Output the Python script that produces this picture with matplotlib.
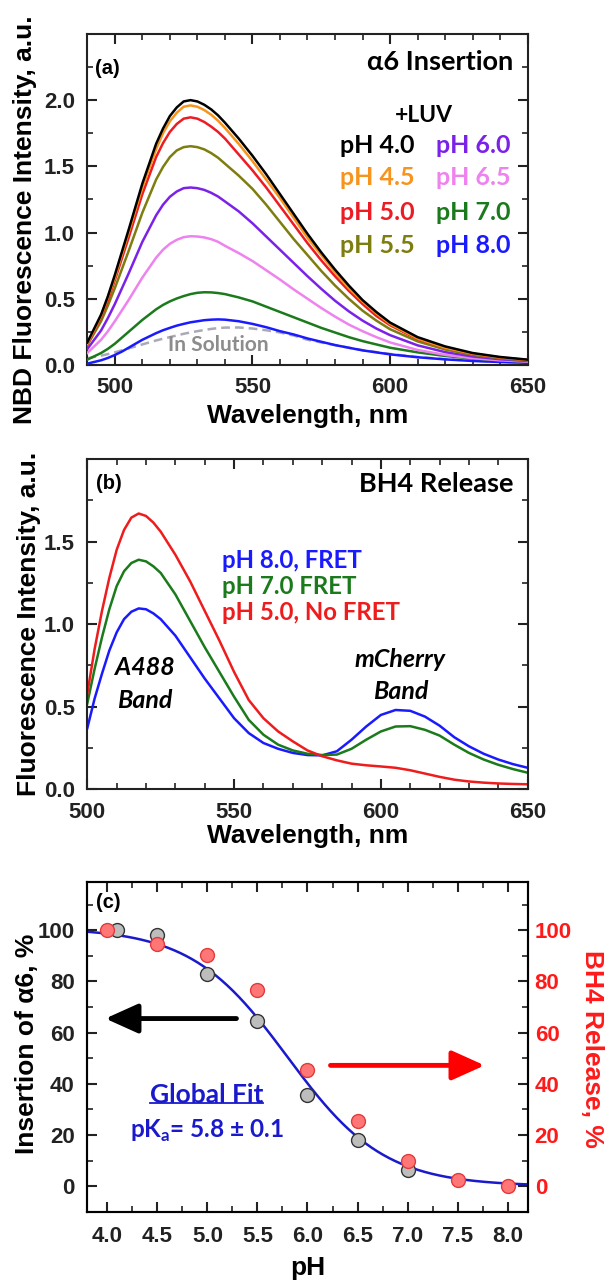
import matplotlib
matplotlib.use('Agg')
import matplotlib.pyplot as plt
from matplotlib.ticker import MultipleLocator, FixedLocator, FormatStrFormatter
import numpy as np

# ---------------- Panel (a): NBD fluorescence spectra ----------------
wl_a = [490, 495, 497.5, 500, 502.5, 505, 510, 515, 517.5, 520, 522.5, 525, 527.5, 530, 532.5,
        535, 537.5, 540, 545, 550, 555, 560, 565, 570, 575, 580, 585, 590, 595, 600,
        610, 620, 630, 640, 650]
ph40 = [0.17, 0.38, 0.52, 0.68, 0.85, 1.02, 1.37, 1.67, 1.785, 1.88, 1.945, 1.99, 2.0, 1.99, 1.965,
        1.93, 1.885, 1.83, 1.71, 1.58, 1.44, 1.29, 1.14, 0.99, 0.85, 0.72, 0.60, 0.49, 0.40, 0.32,
        0.21, 0.14, 0.09, 0.06, 0.04]
ph45 = [0.16, 0.37, 0.51, 0.66, 0.83, 1.00, 1.34, 1.63, 1.75, 1.84, 1.905, 1.95, 1.96, 1.95, 1.925,
        1.89, 1.845, 1.79, 1.67, 1.54, 1.40, 1.26, 1.11, 0.96, 0.83, 0.70, 0.58, 0.48, 0.39, 0.31,
        0.20, 0.13, 0.085, 0.057, 0.038]
ph50 = [0.155, 0.36, 0.49, 0.64, 0.80, 0.96, 1.29, 1.57, 1.675, 1.76, 1.82, 1.86, 1.87, 1.86, 1.835,
        1.80, 1.76, 1.71, 1.59, 1.47, 1.34, 1.20, 1.06, 0.92, 0.79, 0.67, 0.56, 0.46, 0.37, 0.30,
        0.195, 0.13, 0.083, 0.055, 0.037]
ph55 = [0.15, 0.33, 0.45, 0.58, 0.72, 0.86, 1.15, 1.40, 1.495, 1.57, 1.62, 1.645, 1.652, 1.645, 1.628,
        1.60, 1.565, 1.52, 1.43, 1.33, 1.21, 1.08, 0.95, 0.83, 0.71, 0.60, 0.50, 0.41, 0.335, 0.27,
        0.178, 0.117, 0.076, 0.05, 0.034]
ph60 = [0.12, 0.26, 0.355, 0.46, 0.575, 0.69, 0.93, 1.13, 1.21, 1.27, 1.31, 1.335, 1.34, 1.335, 1.322,
        1.30, 1.272, 1.235, 1.16, 1.07, 0.97, 0.87, 0.77, 0.67, 0.575, 0.485, 0.405, 0.335, 0.275, 0.225,
        0.148, 0.097, 0.064, 0.043, 0.03]
ph65 = [0.09, 0.19, 0.255, 0.33, 0.41, 0.49, 0.66, 0.81, 0.87, 0.915, 0.945, 0.965, 0.972, 0.97, 0.963,
        0.95, 0.93, 0.90, 0.845, 0.785, 0.715, 0.645, 0.57, 0.50, 0.43, 0.365, 0.305, 0.255, 0.21, 0.17,
        0.113, 0.076, 0.051, 0.035, 0.025]
ph70 = [0.04, 0.09, 0.122, 0.16, 0.205, 0.25, 0.34, 0.42, 0.453, 0.48, 0.502, 0.52, 0.535, 0.545, 0.549,
        0.548, 0.543, 0.535, 0.51, 0.48, 0.44, 0.40, 0.36, 0.32, 0.28, 0.245, 0.21, 0.18, 0.155, 0.13,
        0.095, 0.068, 0.048, 0.035, 0.026]
ph80 = [0.01, 0.035, 0.053, 0.075, 0.10, 0.13, 0.19, 0.24, 0.262, 0.28, 0.297, 0.31, 0.322, 0.33, 0.338,
        0.342, 0.344, 0.342, 0.33, 0.31, 0.285, 0.255, 0.23, 0.20, 0.175, 0.15, 0.13, 0.11, 0.095, 0.08,
        0.058, 0.042, 0.03, 0.022, 0.016]
in_solution = [0.05, 0.07, 0.082, 0.095, 0.11, 0.125, 0.155, 0.185, 0.198, 0.21, 0.223, 0.235, 0.246, 0.255, 0.264,
               0.272, 0.278, 0.282, 0.283, 0.275, 0.262, 0.245, 0.222, 0.19, 0.17, 0.15, 0.13, 0.112, 0.097, 0.083,
               0.06, 0.044, 0.032, 0.024, 0.018]

a_labels = ['pH 4.0', 'pH 4.5', 'pH 5.0', 'pH 5.5', 'pH 6.0', 'pH 6.5', 'pH 7.0', 'pH 8.0']
a_series = [ph40, ph45, ph50, ph55, ph60, ph65, ph70, ph80]
a_colors = ['#000000', '#f7941d', '#ed1c24', '#7d7d10', '#7b22e8', '#ee82ee', '#1b7a1b', '#1a1aff']

# ---------------- Panel (b): BH4 release spectra ----------------
wl_b = [500, 502.5, 505, 507.5, 510, 512.5, 515, 517.5, 520, 522.5, 525, 530, 535, 540, 545, 550,
        555, 560, 565, 570, 575, 580, 585, 590, 595, 600, 605, 610, 615, 620, 625, 630, 635,
        640, 645, 650]
b_ph80 = [0.37, 0.55, 0.70, 0.84, 0.95, 1.03, 1.075, 1.095, 1.09, 1.065, 1.03, 0.93, 0.80, 0.67, 0.55, 0.43,
          0.34, 0.28, 0.245, 0.22, 0.207, 0.205, 0.23, 0.30, 0.38, 0.45, 0.48, 0.475, 0.44, 0.385, 0.315, 0.26,
          0.215, 0.18, 0.152, 0.13]
b_ph70 = [0.52, 0.73, 0.92, 1.09, 1.23, 1.32, 1.37, 1.39, 1.38, 1.35, 1.31, 1.18, 1.02, 0.86, 0.71, 0.56,
          0.42, 0.33, 0.27, 0.235, 0.215, 0.207, 0.21, 0.245, 0.30, 0.35, 0.38, 0.382, 0.36, 0.325, 0.27, 0.22,
          0.18, 0.148, 0.122, 0.10]
b_ph50 = [0.58, 0.85, 1.08, 1.28, 1.45, 1.57, 1.645, 1.67, 1.655, 1.615, 1.56, 1.42, 1.26, 1.08, 0.90, 0.71,
          0.54, 0.43, 0.35, 0.29, 0.235, 0.20, 0.175, 0.155, 0.145, 0.138, 0.13, 0.115, 0.095, 0.075, 0.058, 0.047,
          0.04, 0.035, 0.032, 0.03]
b_labels = ['pH 8.0, FRET', 'pH 7.0 FRET', 'pH 5.0, No FRET']
b_series = [b_ph80, b_ph70, b_ph50]
b_colors = ['#1a1aff', '#1b7a1b', '#ee1c1c']

# ---------------- Panel (c): pH dependence ----------------
ph_insert = [4.1, 4.5, 5.0, 5.5, 6.0, 6.5, 7.0]
insertion = [100, 98, 83, 64.5, 35.5, 18.2, 6.5]
ph_release = [4.0, 4.5, 5.0, 5.5, 6.0, 6.5, 7.0, 7.5, 8.0]
release = [100, 94.5, 90.5, 76.5, 45.5, 25.5, 10, 2.5, 0]
PKA = 5.8
HILL_N = 0.9
FIT_TOP = 101.0

# ---------------- Style ----------------
plt.rcParams['font.family'] = ['Liberation Sans', 'DejaVu Sans']
plt.rcParams['font.weight'] = 'bold'
plt.rcParams['axes.labelweight'] = 'bold'
ANN = ['Lato', 'DejaVu Sans']
TICK_FS = 16
LAB_FS = 19

fig = plt.figure(figsize=(6.08, 12.85), dpi=100)
L, W = 0.1436, 0.7243
ax_a = fig.add_axes([L, 0.7160, W, 0.2576])
ax_b = fig.add_axes([L, 0.3858, W, 0.2570])
ax_c = fig.add_axes([L, 0.0570, W, 0.2569])


def style(ax, right=True):
    for s in ax.spines.values():
        s.set_linewidth(1.5)
        s.set_color('#222222')
    ax.tick_params(which='both', direction='in', top=True, right=right,
                   labelsize=TICK_FS, pad=9, colors='#222222')
    ax.tick_params(which='major', length=7, width=1.5)
    ax.tick_params(which='minor', length=4, width=1.2)
    for lab in ax.get_xticklabels() + ax.get_yticklabels():
        lab.set_fontweight('bold')


# ---- (a)
for ys, c in zip(a_series[::-1], a_colors[::-1]):
    ax_a.plot(wl_a, ys, color=c, lw=1.8, zorder=3, solid_joinstyle='round')
ax_a.plot(wl_a, in_solution, color='#a9a9b8', lw=1.8, ls=(0, (3.5, 2)), zorder=2)
ax_a.set_xlim(490, 650)
ax_a.set_ylim(0, 2.5)
ax_a.xaxis.set_major_locator(FixedLocator([500, 550, 600, 650]))
ax_a.xaxis.set_minor_locator(MultipleLocator(10))
ax_a.yaxis.set_major_locator(FixedLocator([0, 0.5, 1.0, 1.5, 2.0]))
ax_a.yaxis.set_minor_locator(FixedLocator([0.25, 0.75, 1.25, 1.75, 2.25]))
ax_a.set_yticklabels(['0.0', '0.5', '1.0', '1.5', '2.0'])
style(ax_a)
ax_a.set_xlabel('Wavelength, nm', fontsize=LAB_FS, fontweight='bold', va='center')
ax_a.xaxis.set_label_coords(0.5, -0.154)
ax_a.set_ylabel('NBD Fluorescence Intensity, a.u.', fontsize=LAB_FS, fontweight='bold', va='center')
ax_a.yaxis.set_label_coords(-0.141, 0.438)
ax_a.text(0.0175, 0.897, '(a)', transform=ax_a.transAxes, fontsize=14.5, fontweight='bold',
          ha='left', va='center')
ax_a.text(0.9667, 0.914, 'α6 Insertion', transform=ax_a.transAxes, fontsize=19.5, family=ANN,
          fontweight='bold', ha='right', va='center')
ax_a.text(0.765, 0.755, '+LUV', transform=ax_a.transAxes, fontsize=16.5, family=ANN,
          fontweight='bold', ha='center', va='center')
rows_y = [0.662, 0.565, 0.460, 0.360]
for i, (lab, c) in enumerate(zip(a_labels, a_colors)):
    col = i // 4
    x = 0.573 if col == 0 else 0.792
    ax_a.text(x, rows_y[i % 4], lab, transform=ax_a.transAxes, color=c, fontsize=18,
              family=ANN, fontweight='bold', ha='left', va='center')
ax_a.text(537.5, 0.15, 'In Solution', color='#8c8c8c', fontsize=15, family=ANN,
          fontweight='bold', ha='center', va='center', zorder=4)

# ---- (b)
for ys, c in zip(b_series, b_colors):
    ax_b.plot(wl_b, ys, color=c, lw=1.8, solid_joinstyle='round')
ax_b.set_xlim(500, 650)
ax_b.set_ylim(0, 2.0)
ax_b.xaxis.set_major_locator(MultipleLocator(50))
ax_b.xaxis.set_minor_locator(MultipleLocator(10))
ax_b.yaxis.set_major_locator(FixedLocator([0, 0.5, 1.0, 1.5]))
ax_b.yaxis.set_minor_locator(FixedLocator([0.25, 0.75, 1.25, 1.75]))
ax_b.set_yticklabels(['0.0', '0.5', '1.0', '1.5'])
style(ax_b)
ax_b.set_xlabel('Wavelength, nm', fontsize=LAB_FS, fontweight='bold', va='center')
ax_b.xaxis.set_label_coords(0.5, -0.141)
ax_b.set_ylabel('Fluorescence Intensity, a.u.', fontsize=LAB_FS, fontweight='bold', va='center')
ax_b.yaxis.set_label_coords(-0.133, 0.5)
ax_b.text(0.0205, 0.926, '(b)', transform=ax_b.transAxes, fontsize=14.5, fontweight='bold',
          ha='left', va='center')
ax_b.text(0.9667, 0.924, 'BH4 Release', transform=ax_b.transAxes, fontsize=19.5, family=ANN,
          fontweight='bold', ha='right', va='center')
for lab, c, y in zip(b_labels, b_colors, [0.692, 0.613, 0.535]):
    ax_b.text(0.306, y, lab, transform=ax_b.transAxes, color=c, fontsize=17.3, family=ANN,
              fontweight='bold', ha='left', va='center')
for txt, x, y in [('A488', 0.131, 0.37), ('Band', 0.131, 0.27),
                  ('mCherry', 0.711, 0.392), ('Band', 0.711, 0.297)]:
    ax_b.text(x, y, txt, transform=ax_b.transAxes, fontsize=18, family=ANN,
              fontweight='bold', style='italic', ha='center', va='center')

# ---- (c)
ph_fit = np.linspace(3.8, 8.2, 300)
fit = FIT_TOP / (1.0 + 10 ** (HILL_N * (ph_fit - PKA)))
ax_c.plot(ph_fit, fit, color='#1a1acc', lw=1.8, zorder=2)
ax_c.plot(ph_insert, insertion, 'o', ms=10, mfc='#bdbdbd', mec='#333333', mew=1.0, zorder=3)
ax_c.plot(ph_release, release, 'o', ms=10, mfc='#ff7676', mec='#e23a3a', mew=1.0, zorder=4)
ax_c.set_xlim(3.8, 8.2)
ax_c.set_ylim(-10, 119)
ax_c.xaxis.set_major_locator(MultipleLocator(0.5))
ax_c.xaxis.set_minor_locator(MultipleLocator(0.25))
ax_c.yaxis.set_major_locator(FixedLocator([0, 20, 40, 60, 80, 100]))
ax_c.yaxis.set_minor_locator(FixedLocator([-10, 10, 30, 50, 70, 90, 110]))
ax_c.xaxis.set_major_formatter(FormatStrFormatter('%.1f'))
style(ax_c, right=False)
ax_c.tick_params(axis='x', pad=10)
ax_c.set_xlabel('pH', fontsize=LAB_FS, fontweight='bold', va='center')
ax_c.xaxis.set_label_coords(0.5, -0.171)
ax_c.set_ylabel('Insertion of α6, %', fontsize=LAB_FS, fontweight='bold', va='center')
ax_c.yaxis.set_label_coords(-0.137, 0.51)

ax_r = ax_c.twinx()
ax_r.set_ylim(ax_c.get_ylim())
ax_r.yaxis.set_major_locator(FixedLocator([0, 20, 40, 60, 80, 100]))
ax_r.yaxis.set_minor_locator(FixedLocator([-10, 10, 30, 50, 70, 90, 110]))
ax_r.tick_params(which='both', direction='in', right=True, labelsize=TICK_FS, pad=5,
                 colors='#222222')
ax_r.tick_params(axis='y', labelcolor='#ff1a1a')
ax_r.tick_params(which='major', length=7, width=1.5)
ax_r.tick_params(which='minor', length=4, width=1.2)
for s in ax_r.spines.values():
    s.set_linewidth(1.5)
for lab in ax_r.get_yticklabels():
    lab.set_fontweight('bold')
ax_r.set_ylabel('BH4 Release, %', fontsize=LAB_FS, fontweight='bold', color='#ff1a1a',
                rotation=270, va='center')
ax_r.yaxis.set_label_coords(1.146, 0.493)

ax_c.text(0.02, 0.937, '(c)', transform=ax_c.transAxes, fontsize=14.5, fontweight='bold',
          ha='left', va='center')
gf = ax_c.text(0.271, 0.354, 'Global Fit', transform=ax_c.transAxes, color='#1a1acc', fontsize=19,
               family=ANN, fontweight='bold', ha='center', va='center')
ax_c.text(0.271, 0.245, 'pK$_\\mathregular{a}$= 5.8 ± 0.1', transform=ax_c.transAxes,
          color='#1a1acc', fontsize=17.5, family=ANN, fontweight='bold', ha='center', va='center')

arrow_kw = dict(arrowstyle='-|>,head_length=1.0,head_width=0.45', lw=3.5, mutation_scale=20,
                shrinkA=0, shrinkB=0)
ax_c.annotate('', xy=(3.98, 65.5), xytext=(5.29, 65.5),
              arrowprops=dict(color='black', **arrow_kw), zorder=5)
ax_c.annotate('', xy=(7.77, 47.2), xytext=(6.23, 47.2),
              arrowprops=dict(color='#ff0000', **arrow_kw), zorder=5)

# underline for "Global Fit"
fig.canvas.draw()
bb = gf.get_window_extent(fig.canvas.get_renderer())
inv = ax_c.transAxes.inverted()
(x0, y0), (x1, y1) = inv.transform([(bb.x0, bb.y0), (bb.x1, bb.y1)])
ax_c.plot([x0, x1], [y0 + 0.012, y0 + 0.012], transform=ax_c.transAxes, color='#1a1acc',
          lw=1.3, clip_on=False)

fig.savefig('out.png', dpi=100)
